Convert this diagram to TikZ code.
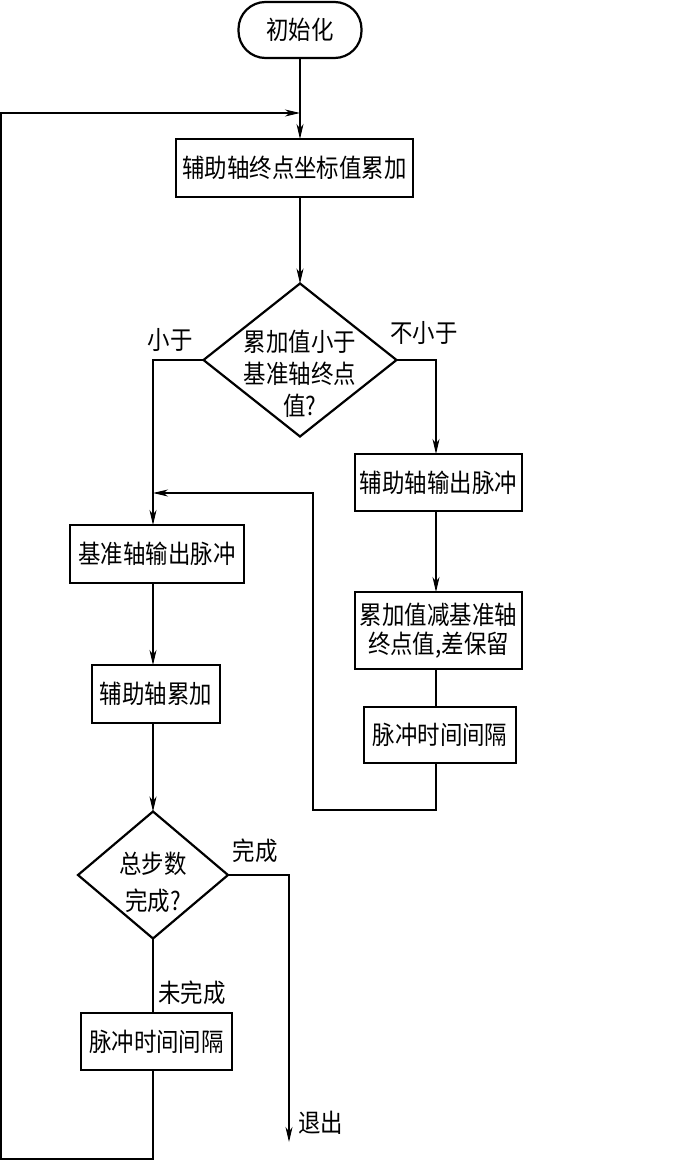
\documentclass[tikz,border=0pt]{standalone}
\usepackage{fontspec}
\setmainfont[FakeStretch=0.88]{Noto Sans CJK SC}
\usetikzlibrary{shapes.geometric,arrows.meta}
\begin{document}
\begin{tikzpicture}[x=1pt,y=-1pt,
  every node/.style={inner sep=0pt,outer sep=0pt},
  txt/.style={font=\fontsize{25.5}{29}\selectfont,align=center},
  box/.style={txt,draw,line width=2.2pt,rectangle},
  dia/.style={draw,line width=2.2pt,diamond},
  term/.style={txt,draw,line width=2.2pt,rectangle,rounded corners=27pt},
  con/.style={line width=1.1pt},
  arr/.style={con,-{Stealth[length=15pt,width=7pt,inset=4.5pt]}},
  lbl/.style={txt}
]
\useasboundingbox (0,0) rectangle (676,1161);
\coordinate (M) at (300,0);
\coordinate (L) at (153,0);
\coordinate (R) at (436,0);

\node[term,minimum width=123pt,minimum height=56pt] (start) at (300,30) {初始化};
\node[box,minimum width=237pt,minimum height=58pt] (b1) at (294.5,168) {辅助轴终点坐标值累加};
\node[dia,minimum width=193pt,minimum height=153pt] (d1) at (300,360) {};
\node[txt,font=\fontsize{25.5}{32}\selectfont] (t1) at (300,374) {累加值小于\\基准轴终点\\值?};
\node[box,minimum width=167pt,minimum height=57pt] (b3) at (438.5,482.5) {辅助轴输出脉冲};
\node[box,minimum width=174pt,minimum height=58pt] (b2) at (157,554) {基准轴输出脉冲};
\node[box,minimum width=167pt,minimum height=77pt] (b4) at (438.5,630.5) {累加值减基准轴\\终点值,差保留};
\node[box,minimum width=152pt,minimum height=56pt] (b5) at (440,735) {脉冲时间间隔};
\node[box,minimum width=128pt,minimum height=58pt] (b6) at (156,694) {辅助轴累加};
\node[dia,minimum width=150pt,minimum height=127pt] (d2) at (153,875) {};
\node[txt,font=\fontsize{25.5}{37}\selectfont] (t2) at (153,882) {总步数\\完成?};
\node[box,minimum width=151pt,minimum height=57pt] (b7) at (156.5,1041.5) {脉冲时间间隔};

\node[lbl] (l1) at (170,340) {小于};
\node[lbl] (l2) at (424,333) {不小于};
\node[lbl] (l3) at (255,851) {完成};
\node[lbl] (l4) at (192,993) {未完成};
\node[lbl,anchor=west] (l5) at (298,1123) {退出};

\coordinate (lp1) at (1,1159);
\coordinate (lp2) at (1,113);
\coordinate (lpin) at (300,113);
\coordinate (rt1) at (436,810);
\coordinate (rt2) at (313,810);
\coordinate (rt3) at (313,493);
\coordinate (rtin) at (153,493);
\coordinate (ex1) at (289,875);
\coordinate (exit) at (289,1142);

\draw[arr] (start.south) -- (M |- b1.north);
\draw[arr] (M |- b1.south) -- (d1.north);
\draw[arr] (d1.west) -| (L |- b2.north);
\draw[arr] (d1.east) -| (R |- b3.north);
\draw[arr] (R |- b3.south) -- (R |- b4.north);
\draw[con] (R |- b4.south) -- (R |- b5.north);
\draw[arr] (R |- b5.south) -- (rt1) -- (rt2) -- (rt3) -- (rtin);
\draw[arr] (L |- b2.south) -- (L |- b6.north);
\draw[arr] (L |- b6.south) -- (d2.north);
\draw[con] (d2.south) -- (L |- b7.north);
\draw[arr] (d2.east) -- (ex1) -- (exit);
\draw[arr] (L |- b7.south) -- (L |- lp1) -- (lp1) -- (lp2) -- (lpin);
\end{tikzpicture}
\end{document}
